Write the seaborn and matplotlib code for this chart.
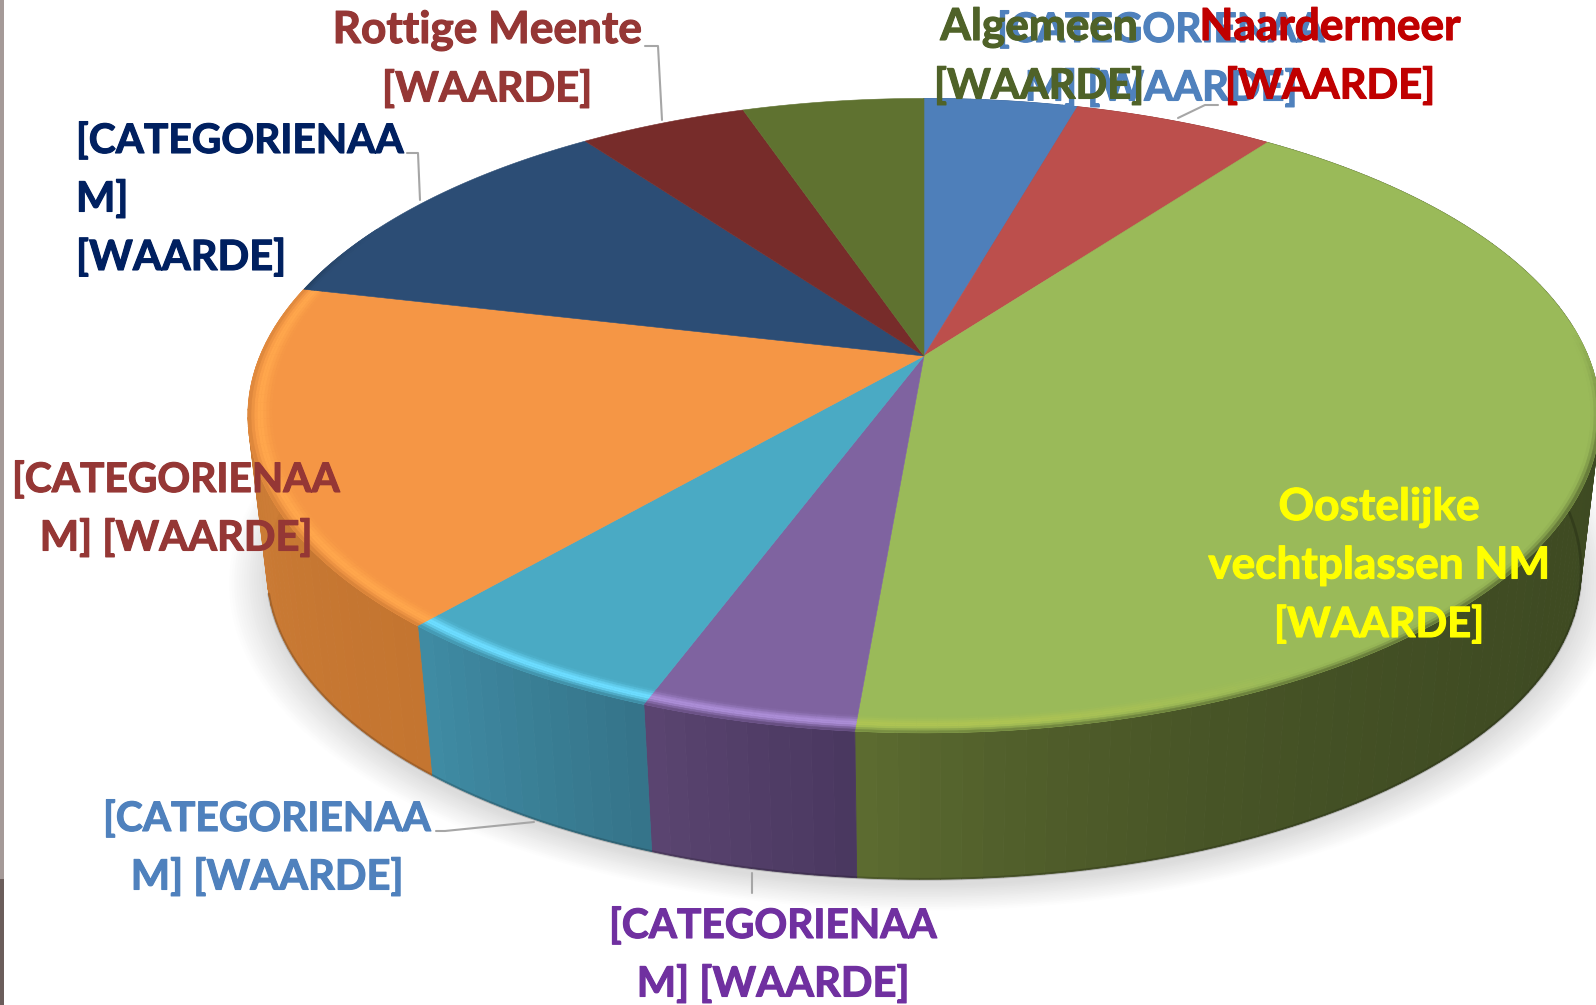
"""Perspective 3D-style pie chart of area shares, with placeholder data labels."""

from __future__ import annotations

import matplotlib

matplotlib.use("Agg")
import matplotlib.patheffects as pe
import matplotlib.pyplot as plt
import numpy as np
import seaborn as sns
from matplotlib.collections import PolyCollection
from matplotlib.colors import to_rgb

# clockwise from twelve o'clock (percent)
shares = [4.4, 5.75, 41.2, 4.3, 5.7, 17.3, 11.35, 4.8, 5.2]
top_colors = ["#4e7fba", "#bc4f4c", "#9aba59", "#7f63a0", "#4aaac4", "#f59645", "#2c4d75", "#772c2a", "#5f7230"]
wall_dark = ["#3b5f8c", "#8f3b39", "#3e4a22", "#4a3860", "#35748a", "#c47530", "#203a58", "#592120", "#465722"]
wall_light = ["#3b5f8c", "#8f3b39", "#5c6b30", "#5a4470", "#3f8ba3", "#cf7f38", "#203a58", "#592120", "#465722"]
rim_colors = ["#4f81bd", "#c0504d", "#aec453", "#ab8dd6", "#6cdcff", "#ffa64c", "#2c4d75", "#772c2a", "#5f7530"]
wall_power = [1, 1, 6, 1, 1, 1, 1, 1, 1]

labels = [
    "[CATEGORIENAA\nM] [WAARDE]",
    "Naardermeer\n[WAARDE]",
    "Oostelijke\nvechtplassen NM\n[WAARDE]",
    "[CATEGORIENAA\nM] [WAARDE]",
    "[CATEGORIENAA\nM] [WAARDE]",
    "[CATEGORIENAA\nM] [WAARDE]",
    "[CATEGORIENAA\nM]\n[WAARDE]",
    "Rottige Meente\n[WAARDE]",
    "Algemeen\n[WAARDE]",
]
label_colors = ["#4f81bd", "#c00000", "#ffff00", "#7030a0", "#4f81bd", "#953735", "#002060", "#953735", "#4f6228"]
label_x = [1161, 1330, 1379, 773, 267, 176, 76, 487, 1039]
label_base = [42, 40, 520, 938, 831, 492, 153, 43, 40]
label_ha = ["center", "center", "center", "center", "center", "center", "left", "center", "center"]
leaders = [
    ([1178, 1205, 1218], [118, 105, 105]),
    ([645, 658, 662], [46, 46, 120]),
    ([407, 418, 420], [153, 153, 200]),
    ([436, 445, 534], [831, 831, 822]),
    ([752, 752], [873, 893]),
]

CX, CY, BX, AY, K = 924.0, 356.0, 664.0, 306.0, 0.188
WALL_SCALE, WALL_CY = 0.972, 513.0
LINE_STEP = 58.5


def project(theta, r=1.0, scale=1.0, cy=CY):
    """Map polar position on the pie plane to picture coordinates."""
    u = r * np.sin(theta)
    v = r * np.cos(theta)
    den = 1 + K * v
    return CX + scale * BX * u / den, cy - scale * AY * v / den


def mix(a, b, t):
    return tuple((1 - t) * np.array(to_rgb(a)) + t * np.array(to_rgb(b)))


def line_size(line):
    """Lato runs narrower than the original face on lowercase, wider on caps."""
    if any(c.islower() for c in line):
        return 31.8
    return 29.3 if "CATEGORIE" in line else 30.0


sns.set_theme(style="white")
plt.rcParams["font.family"] = ["Lato", "DejaVu Sans"]

fig = plt.figure(figsize=(15.96, 10.05), dpi=100)
ax = fig.add_axes([0, 0, 1, 1])
ax.set_xlim(0, 1596)
ax.set_ylim(1005, 0)
ax.axis("off")

edges = np.deg2rad(np.concatenate([[0], np.cumsum(shares)]) / sum(shares) * 360)
circle = np.linspace(0, 2 * np.pi, 361)

# soft ground shadow, outermost ring first
for i, grow in enumerate(np.linspace(1.055, 1.0, 16)):
    gx, gy = project(circle, r=grow, scale=WALL_SCALE, cy=WALL_CY + 6)
    ax.fill(gx, gy, color=mix("#ffffff", "#dcdcdc", (i + 1) / 16), lw=0, zorder=1)

# side wall as thin shaded strips; the back slices have no visible wall
wall_polys, wall_cols = [], []
for i in range(len(shares)):
    if np.degrees(edges[i]) > 270:
        continue
    steps = np.linspace(edges[i], edges[i + 1], max(int(np.degrees(edges[i + 1] - edges[i]) / 1.5), 2) + 1)
    for j in range(len(steps) - 1):
        t = (j / (len(steps) - 2)) ** wall_power[i]
        seg = np.linspace(steps[j], steps[j + 1], 3)
        tx, ty = project(seg)
        bx, by = project(seg, scale=WALL_SCALE, cy=WALL_CY)
        wall_polys.append(np.column_stack([np.r_[tx, bx[::-1]], np.r_[ty, by[::-1]]]))
        wall_cols.append(mix(wall_dark[i], wall_light[i], t))
ax.add_collection(PolyCollection(wall_polys, facecolors=wall_cols, edgecolors=wall_cols, linewidths=0.6, zorder=2))

# darker lower edge of the wall, only up to the left silhouette
ex, ey = project(circle[85:256], scale=WALL_SCALE, cy=WALL_CY)
ax.plot(ex, ey, color="black", alpha=0.18, lw=2, zorder=3)

# top face
for i in range(len(shares)):
    seg = np.linspace(edges[i], edges[i + 1], 120)
    px, py = project(seg)
    ax.fill(np.r_[CX, px], np.r_[CY, py], color=top_colors[i], lw=0.4, ec=top_colors[i], zorder=4)

# bevel along the front of the rim
ring_edges = np.linspace(0.965, 1.0, 9)
ring_peak = np.array([0.1, 0.35, 0.7, 1.0, 1.0, 0.7, 0.35, 0.1])
ring_wall = np.array([0, 0, 0, 0, 0, 0.05, 0.25, 0.55])
rim_polys, rim_cols = [], []
for i in range(len(shares)):
    steps = np.arange(edges[i], edges[i + 1] + 1e-6, np.deg2rad(1.5))
    steps = np.r_[steps[:-1], edges[i + 1]] if len(steps) > 1 else np.array([edges[i], edges[i + 1]])
    for j in range(len(steps) - 1):
        mid = np.degrees((steps[j] + steps[j + 1]) / 2)
        if not 85 < mid < 296:
            continue
        front = np.clip((mid - 150) / 25, 0, 1) * np.clip((296 - mid) / 12, 0, 1)
        side = np.clip((mid - 85) / 25, 0, 1) * np.clip((296 - mid) / 12, 0, 1)
        t = j / max(len(steps) - 2, 1)
        wall = mix(wall_dark[i], wall_light[i], t ** wall_power[i])
        for k in range(8):
            seg = np.linspace(steps[j], steps[j + 1], 3)
            ix, iy = project(seg, r=ring_edges[k])
            ox, oy = project(seg, r=ring_edges[k + 1])
            col = mix(top_colors[i], rim_colors[i], ring_peak[k] * front)
            col = mix(col, wall, ring_wall[k] * side)
            rim_polys.append(np.column_stack([np.r_[ix, ox[::-1]], np.r_[iy, oy[::-1]]]))
            rim_cols.append(col)
ax.add_collection(PolyCollection(rim_polys, facecolors=rim_cols, edgecolors=rim_cols, linewidths=0.3, zorder=5))

for lx, ly in leaders:
    ax.plot(lx, ly, color="#a6a6a6", lw=1.5, zorder=6)

for i, text in enumerate(labels):
    for n, line in enumerate(text.split("\n")):
        ax.text(
            label_x[i], label_base[i] + n * LINE_STEP, line, color=label_colors[i], ha=label_ha[i],
            va="baseline", fontsize=line_size(line), fontweight="bold", zorder=7,
            path_effects=[pe.withStroke(linewidth=0.8, foreground=label_colors[i])],
        )

# strip of the neighbouring slide on the left edge
ax.axvspan(0, 3.5, ymin=0, ymax=1, color="#a59a98", lw=0, zorder=8)
ax.axvspan(0, 3.5, ymin=0, ymax=0.125, color="#6b5d5b", lw=0, zorder=9)

fig.savefig("out.png", dpi=100)
plt.close(fig)
